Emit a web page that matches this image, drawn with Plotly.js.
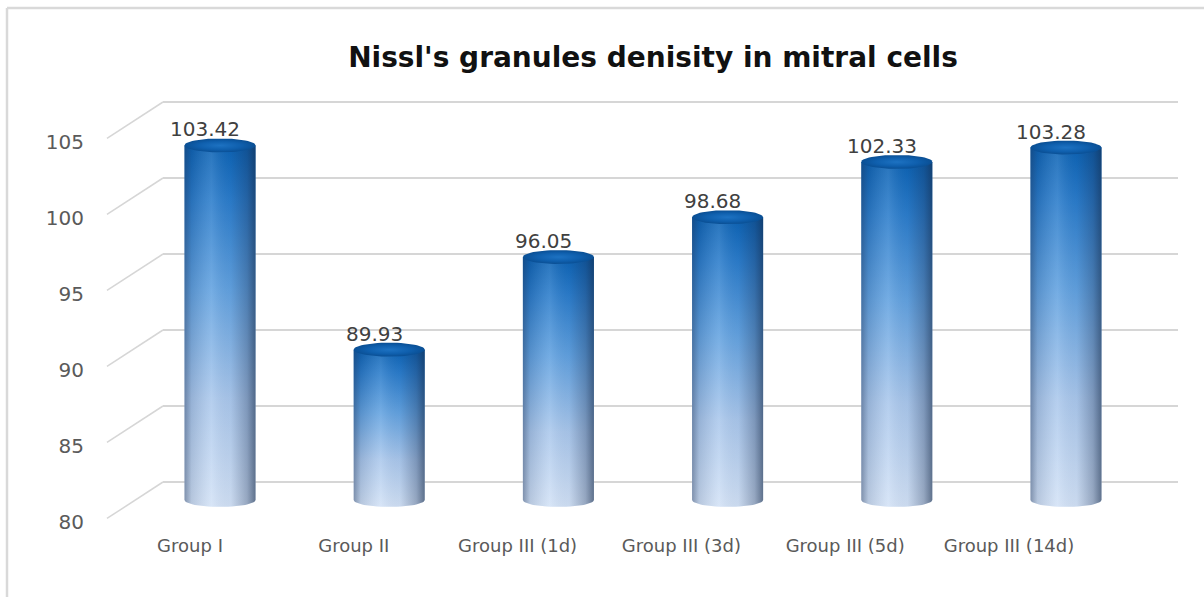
<!DOCTYPE html>
<html><head><meta charset="utf-8">
<script src="https://cdn.plot.ly/plotly-3.0.1.min.js"></script>
<style>html,body{margin:0;padding:0;background:#fff}#chart{width:1204px;height:597px}</style>
</head><body><div id="chart"></div>
<script>
// ---- data ----
const categories = ['Group I', 'Group II', 'Group III (1d)', 'Group III (3d)', 'Group III (5d)', 'Group III (14d)'];
const values = [103.42, 89.93, 96.05, 98.68, 102.33, 103.28];
const valueLabels = ['103.42', '89.93', '96.05', '98.68', '102.33', '103.28'];
const yTicks = [80, 85, 90, 95, 100, 105];
const yTickLabels = ['80', '85', '90', '95', '100', '105'];
const chartTitle = "Nissl's granules denisity in mitral cells";

// ---- geometry helpers ----
const W = 1204, H = 597;
const px = v => v / W, py = v => 1 - v / H;
const BASE = 80, HW = 0.21, EH = 0.46, DEPTH = 2.4, NP = 28;
const catIdx = categories.map((c, i) => i);

function bodyPath(cx, v) {
  const xs = [], ys = [];
  for (let k = 0; k <= NP; k++) {
    const t = Math.PI + Math.PI * k / NP;
    xs.push(cx + HW * Math.cos(t)); ys.push(BASE + EH * Math.sin(t));
  }
  xs.push(cx + HW, cx - HW, cx - HW); ys.push(v, v, BASE);
  return {xs, ys};
}
function capPath(cx, v) {
  const xs = [], ys = [];
  for (let k = 0; k <= 2 * NP; k++) {
    const t = 2 * Math.PI * k / (2 * NP);
    xs.push(cx + HW * Math.cos(t)); ys.push(v + EH * Math.sin(t));
  }
  return {xs, ys};
}

const traces = [];
values.forEach((v, i) => {
  const b = bodyPath(i, v);
  traces.push({
    type: 'scatter', mode: 'lines', x: b.xs, y: b.ys, fill: 'toself',
    line: {width: 0, color: 'rgba(0,0,0,0)'}, hoverinfo: 'skip', showlegend: false,
    fillgradient: {type: 'vertical', colorscale: [[0, '#d3e2f6'], [0.3, '#abc8ec'], [0.6, '#62a2e0'], [0.85, '#2a7ccb'], [1, '#0b62b4']]}
  });
  traces.push({
    type: 'scatter', mode: 'lines', x: b.xs, y: b.ys, fill: 'toself',
    line: {width: 0, color: 'rgba(0,0,0,0)'}, hoverinfo: 'skip', showlegend: false,
    fillgradient: {type: 'horizontal', colorscale: [[0, 'rgba(30,50,85,0.45)'], [0.1, 'rgba(30,50,85,0.15)'], [0.38, 'rgba(255,255,255,0.12)'], [0.65, 'rgba(30,50,85,0.05)'], [0.88, 'rgba(25,45,80,0.32)'], [1, 'rgba(20,40,70,0.6)']]}
  });
  const c = capPath(i, v);
  traces.push({
    type: 'scatter', mode: 'lines', x: c.xs, y: c.ys, fill: 'toself',
    line: {width: 0, color: 'rgba(0,0,0,0)'}, hoverinfo: 'skip', showlegend: false,
    fillgradient: {type: 'radial', colorscale: [[0, '#1d72c2'], [0.6, '#0f5fad'], [1, '#0a4f94']]}
  });
});
// invisible carrier trace so the front-edge category axis (x2) is drawn
traces.push({type: 'scatter', mode: 'markers', x: catIdx, y: values, xaxis: 'x2', yaxis: 'y',
             marker: {size: 1, opacity: 0}, hoverinfo: 'skip', showlegend: false});

const shapes = [
  {type: 'line', xref: 'paper', yref: 'paper', x0: px(7), x1: px(7), y0: py(8), y1: 0, line: {color: '#d9d9d9', width: 2.5}},
  {type: 'line', xref: 'paper', yref: 'paper', x0: px(7), x1: 1, y0: py(8), y1: py(8), line: {color: '#d9d9d9', width: 2.5}}
];
yTicks.forEach(v => {
  shapes.push({type: 'line', xref: 'paper', yref: 'y2', x0: px(163), x1: px(107), y0: v, y1: v - DEPTH, line: {color: '#d6d6d6', width: 1.5}});
});

const annotations = values.map((v, i) => ({
  x: i, y: v, xref: 'x', yref: 'y', text: valueLabels[i], showarrow: false,
  xshift: -15, yshift: 16, yanchor: 'middle',
  font: {family: 'DejaVu Sans', size: 20, color: '#404040'}
}));

const layout = {
  width: W, height: H, margin: {l: 0, r: 0, t: 0, b: 0},
  paper_bgcolor: '#fff', plot_bgcolor: 'rgba(0,0,0,0)', showlegend: false,
  title: {text: chartTitle, x: px(653), xanchor: 'center', xref: 'paper', y: py(57), yanchor: 'middle', yref: 'paper',
          font: {family: 'DejaVu Sans', size: 28, color: '#111', weight: 700}},
  xaxis: {domain: [px(163), px(1178)], range: [-0.337, 5.662], showticklabels: false,
          showgrid: false, zeroline: false, showline: false, ticks: '', fixedrange: true},
  // front-edge category labels (perspective: slightly compressed spacing)
  xaxis2: {overlaying: 'x', anchor: 'y', side: 'bottom', range: [-0.165, 6.032], tickmode: 'array', tickvals: catIdx, ticktext: categories,
           showgrid: false, zeroline: false, showline: false, ticks: '', ticklabelstandoff: 8,
           tickfont: {family: 'DejaVu Sans', size: 18, color: '#5a5a5a'}, fixedrange: true},
  yaxis: {domain: [py(525), py(95)], range: [BASE - 25 / 15.14, BASE + 405 / 15.14], visible: false, fixedrange: true},
  yaxis2: {overlaying: 'y', side: 'left', range: [80 - 43 / 15.2, 80 + 387 / 15.2], tickmode: 'array', tickvals: yTicks, ticktext: yTickLabels,
           showticklabels: true, ticklabelshift: 40, ticklabelstandoff: 78,
           tickfont: {family: 'DejaVu Sans', size: 20, color: '#5a5a5a'},
           showgrid: true, gridcolor: '#d6d6d6', gridwidth: 1.5, zeroline: false, ticks: '', showline: false, fixedrange: true},
  shapes, annotations
};

Plotly.newPlot('chart', traces, layout, {displayModeBar: false, staticPlot: true});
</script></body></html>
